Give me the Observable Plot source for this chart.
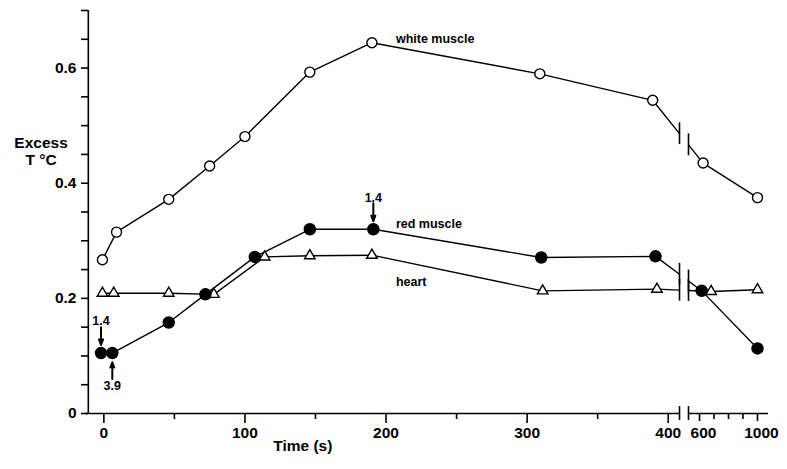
<!DOCTYPE html>
<html>
<head>
<meta charset="utf-8">
<script src="https://cdn.jsdelivr.net/npm/d3@7"></script>
<script src="https://cdn.jsdelivr.net/npm/@observablehq/plot@0.6"></script>
<style>
  body { margin: 0; background: #fff; }
  #chart svg { font-family: "Liberation Sans", Arial, sans-serif; }
</style>
</head>
<body>
<div id="chart"></div>
<script>
// ---- data ----
const timeWhite = [-1, 9, 46, 75, 100, 146, 190, 309, 389, 625, 1000];
const white     = [0.267, 0.315, 0.372, 0.430, 0.481, 0.593, 0.644, 0.590, 0.544, 0.435, 0.375];
const timeRed   = [-2, 6, 46, 72, 107, 146, 191, 310, 391, 615, 1000];
const red       = [0.105, 0.105, 0.158, 0.207, 0.272, 0.320, 0.320, 0.271, 0.273, 0.213, 0.113];
const timeHeart = [-1, 7, 46, 78, 114, 146, 190, 311, 392, 680, 1000];
const heart     = [0.209, 0.209, 0.209, 0.207, 0.272, 0.274, 0.275, 0.213, 0.216, 0.212, 0.215];

const seriesNames = ["white muscle", "red muscle", "heart"];
const xMajorTicksLeft = [0, 100, 200, 300, 400];
const xMajorTicksRight = [600, 1000];
const xMinorTicks = [50, 150, 250, 350, 700, 800, 900];
const yTicks = [0, 0.05, 0.1, 0.15, 0.2, 0.25, 0.3, 0.35, 0.4, 0.45, 0.5, 0.55, 0.6, 0.65, 0.7];
const yTickLabels = [0, 0.2, 0.4, 0.6];
const breakTimes = [408, 524];          // axis break between 400 and 600 s
const annotTexts = ["1.4", "1.4", "3.9"]; // annotations on red-muscle points
const annotIndex = [6, 0, 1];
const annotDir = ["down", "down", "up"];

// ---- scale layout (broken time axis) ----
const xDomain = [-13, breakTimes[0], breakTimes[1], 1076];
const xRange = [85, 679, 688, 768];
const yAxisAt = -11;
const xScale = Plot.scale({x: {type: "linear", domain: xDomain, range: xRange}});

const series = [
  {name: seriesNames[0], t: timeWhite, v: white},
  {name: seriesNames[1], t: timeRed, v: red},
  {name: seriesNames[2], t: timeHeart, v: heart}
];

const lineRows = [], barRows = [];
for (const s of series) {
  const i = s.t.findIndex(t => t > breakTimes[0]);
  const p1 = xScale.apply(s.t[i - 1]), p2 = xScale.apply(s.t[i]);
  const interp = tb => s.v[i - 1] + (s.v[i] - s.v[i - 1]) * (xScale.apply(tb) - p1) / (p2 - p1);
  const vL = interp(breakTimes[0]), vR = interp(breakTimes[1]);
  for (let k = 0; k < i; k++) lineRows.push({t: s.t[k], v: s.v[k], z: s.name + "-a"});
  lineRows.push({t: breakTimes[0], v: vL, z: s.name + "-a"});
  lineRows.push({t: breakTimes[1], v: vR, z: s.name + "-b"});
  for (let k = i; k < s.t.length; k++) lineRows.push({t: s.t[k], v: s.v[k], z: s.name + "-b"});
  barRows.push({t: breakTimes[0], v: vL}, {t: breakTimes[1], v: vR});
}

const pts = s => s.t.map((t, k) => ({t, v: s.v[k]}));
const annots = annotTexts.map((txt, j) => ({
  text: txt, t: timeRed[annotIndex[j]], v: red[annotIndex[j]], dir: annotDir[j]
}));

const bold = {fontWeight: "bold", fill: "black"};
const yFmt = d => {
  const m = yTickLabels.find(l => Math.abs(l - d) < 1e-9);
  return m === undefined ? "" : (m === 0 ? "0" : m.toFixed(1));
};

const chart = Plot.plot({
  width: 787,
  height: 469,
  marginTop: 10,
  marginBottom: 56,
  marginLeft: 88,
  marginRight: 19,
  style: {fontFamily: "Liberation Sans, Arial, sans-serif", background: "white"},
  x: {type: "linear", domain: xDomain, range: xRange},
  y: {domain: [0, 0.7]},
  marks: [
    // axes lines
    Plot.ruleY([0], {x1: xDomain[0], x2: breakTimes[0], strokeWidth: 1.6}),
    Plot.ruleY([0], {x1: breakTimes[1], x2: xDomain[3], strokeWidth: 1.6}),
    Plot.ruleX([breakTimes[0], breakTimes[1]], {y1: -0.012, y2: 0.012, strokeWidth: 1.6}),
    Plot.ruleX([yAxisAt], {y1: 0, y2: 0.7, strokeWidth: 1.6}),
    Plot.axisX({ticks: xMajorTicksLeft, tickSize: 10, tickPadding: 3, tickFormat: d => String(d),
      fontSize: 15.5, ...bold, label: null, strokeWidth: 1.6}),
    Plot.axisX({ticks: xMajorTicksRight, tickSize: 8, tickFormat: () => "", label: null, strokeWidth: 1.6}),
    Plot.axisX({ticks: xMajorTicksRight, tickSize: 0, tickPadding: 13, tickFormat: d => String(d),
      fontSize: 15.5, ...bold, label: null, dx: 4}),
    Plot.axisX({ticks: xMinorTicks, tickSize: 6, tickFormat: () => "", label: null, strokeWidth: 1.6}),
    Plot.axisY({ticks: yTicks, tickSize: 7, tickPadding: 5, tickFormat: yFmt,
      fontSize: 15.5, ...bold, label: null, strokeWidth: 1.6}),
    // axis titles
    Plot.text(["Excess\nT °C"], {x: -44.5, y: 0.456, text: d => d, fontSize: 15.5, ...bold,
      lineAnchor: "middle", lineHeight: 1.1}),
    Plot.text(["Time (s)"], {x: 141, frameAnchor: "bottom", dy: 37, text: d => d, fontSize: 15.5, ...bold}),
    // series lines
    Plot.line(lineRows, {x: "t", y: "v", z: "z", stroke: "black", strokeWidth: 1.4}),
    Plot.ruleX(barRows, {x: "t", y1: d => d.v - 0.019, y2: d => d.v + 0.019, strokeWidth: 1.6}),
    // markers
    Plot.dot(pts(series[0]), {x: "t", y: "v", r: 5, fill: "white", stroke: "black", strokeWidth: 1.4}),
    Plot.dot(pts(series[2]), {x: "t", y: "v", symbol: "triangle", r: 3.9, fill: "white", stroke: "black", strokeWidth: 1.4}),
    Plot.dot(pts(series[1]), {x: "t", y: "v", r: 5.5, fill: "black", stroke: "black"}),
    // series labels
    Plot.text([{label: seriesNames[0], v: 0.651}, {label: seriesNames[1], v: 0.330}, {label: seriesNames[2], v: 0.229}],
      {x: 207, y: "v", text: "label", textAnchor: "start", fontSize: 12.5, ...bold}),
    // arrow annotations
    Plot.arrow(annots, {x: "t", y1: d => d.dir === "down" ? d.v + 0.045 : d.v - 0.045,
      y2: d => d.dir === "down" ? d.v + 0.014 : d.v - 0.016,
      stroke: "black", strokeWidth: 2, headLength: 6, headAngle: 40}),
    Plot.text(annots, {x: "t", y: d => d.dir === "down" ? d.v + 0.055 : d.v - 0.057,
      text: "text", fontSize: 12.5, ...bold})
  ]
});
document.getElementById("chart").appendChild(chart);
</script>
</body>
</html>
